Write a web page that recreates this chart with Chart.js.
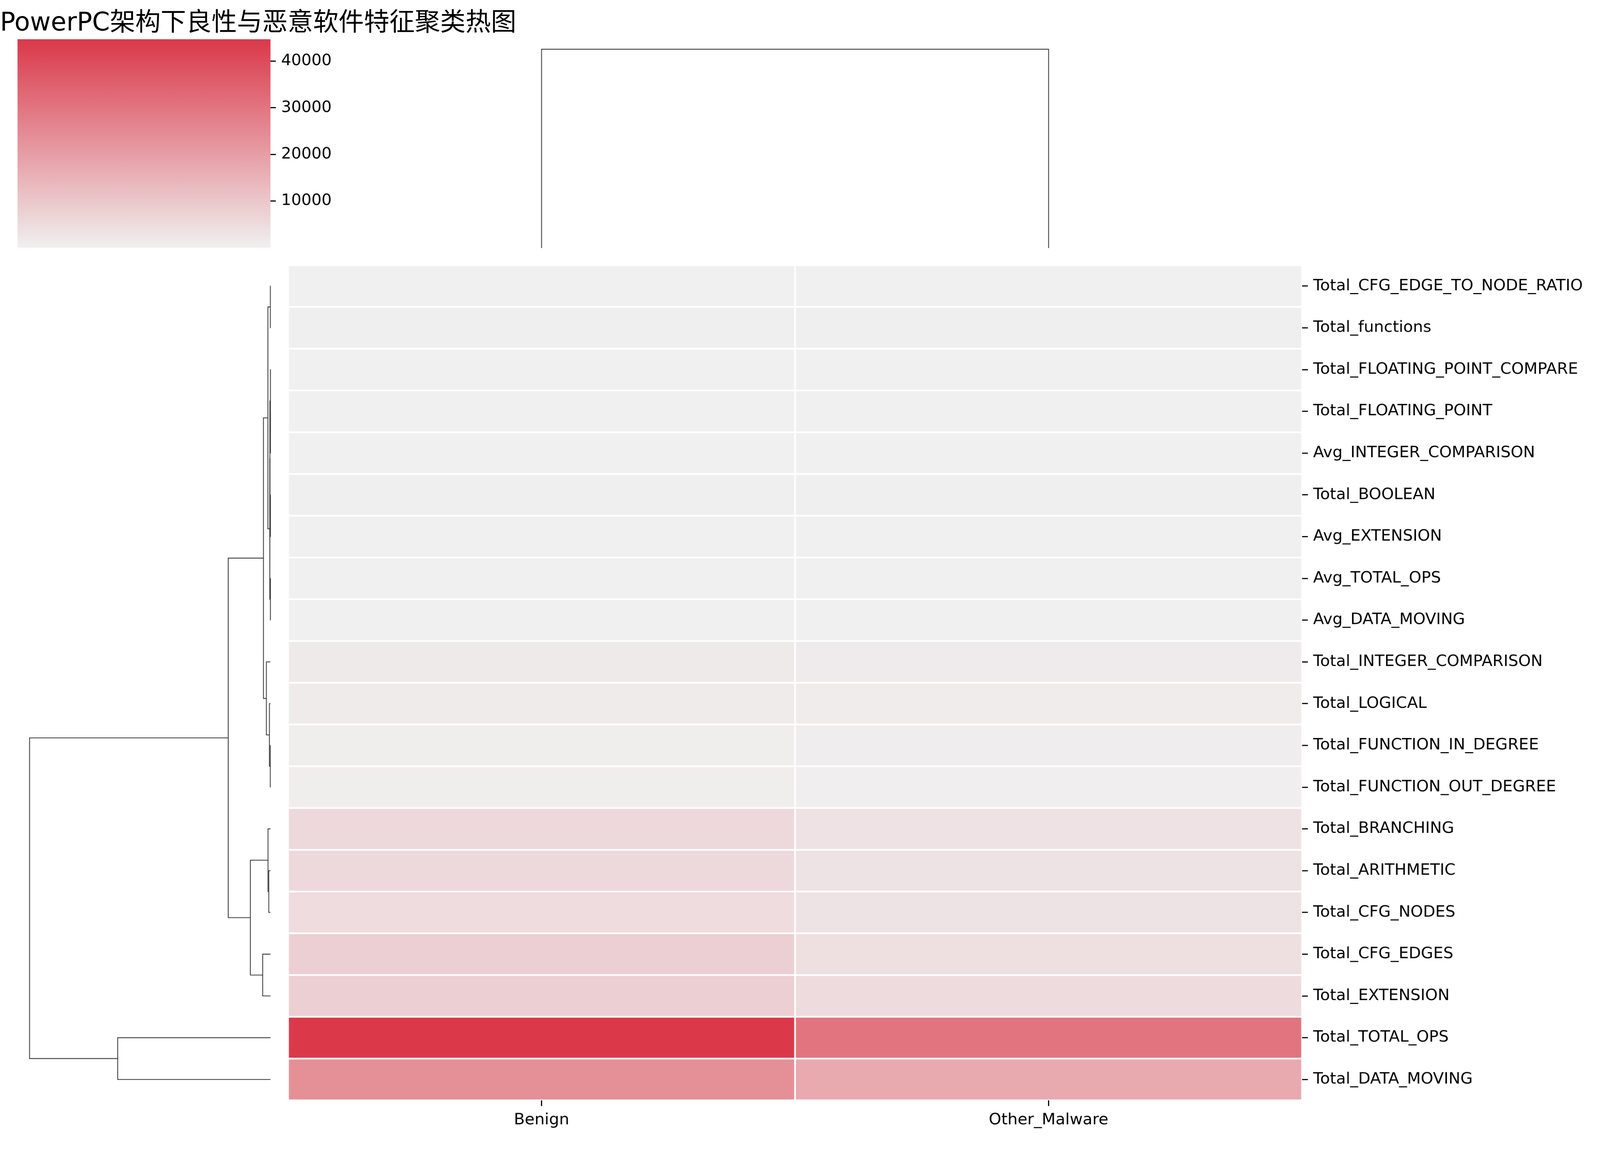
<!DOCTYPE html>
<html>
<head>
<meta charset="utf-8">
<script src="https://cdn.jsdelivr.net/npm/chart.js@4.4.1/dist/chart.umd.min.js"></script>
<style>
  html, body { margin: 0; padding: 0; background: #fff; overflow: hidden; }
  #page { width: 4200px; height: 3000px; position: relative; overflow: hidden; transform-origin: 0 0; }
  .box { position: absolute; }
  #title {
    position: absolute; left: 0px; top: 24px; white-space: nowrap; color: #000;
    font-family: "DejaVu Sans", "Noto Sans CJK SC", sans-serif;
    font-size: 66.7px; line-height: 66.7px;
  }
</style>
</head>
<body>
<div id="page">
<div id="title">PowerPC架构下良性与恶意软件特征聚类热图</div>
<div class="box" style="left:46px;top:103px;width:964px;height:547px"><canvas id="cbar"></canvas></div>
<div class="box" style="left:756px;top:103px;width:2662px;height:558px"><canvas id="colDendro"></canvas></div>
<div class="box" style="left:46px;top:696px;width:674px;height:2192px"><canvas id="rowDendro"></canvas></div>
<div class="box" style="left:756px;top:696px;width:3444px;height:2304px"><canvas id="heat"></canvas></div>
</div>
<script>
// rows in dendrogram order, top to bottom
const rowLabels = [
  'Total_CFG_EDGE_TO_NODE_RATIO', 'Total_functions', 'Total_FLOATING_POINT_COMPARE',
  'Total_FLOATING_POINT', 'Avg_INTEGER_COMPARISON', 'Total_BOOLEAN', 'Avg_EXTENSION',
  'Avg_TOTAL_OPS', 'Avg_DATA_MOVING', 'Total_INTEGER_COMPARISON', 'Total_LOGICAL',
  'Total_FUNCTION_IN_DEGREE', 'Total_FUNCTION_OUT_DEGREE', 'Total_BRANCHING',
  'Total_ARITHMETIC', 'Total_CFG_NODES', 'Total_CFG_EDGES', 'Total_EXTENSION',
  'Total_TOTAL_OPS', 'Total_DATA_MOVING'
];
const colLabels = ['Benign', 'Other_Malware'];

const benign       = [1.3, 160, 4, 9, 6, 210, 3, 45, 20, 1500, 1250, 760, 740, 5600, 5500, 4900, 8100, 8000, 44700, 23800];
const otherMalware = [1.2, 130, 3, 7, 5, 170, 3, 40, 18, 1200, 1000, 620, 600, 3300, 3250, 3200, 4200, 5100, 30300, 17300];

const cbarTicks = [10000, 20000, 30000, 40000];

// row linkage: [left, right] ids (leaves 0..19, merged clusters 20..) and merge heights
const rowLinkPairs = [
  [0, 1], [3, 4], [2, 21], [5, 6], [7, 8], [22, 23], [25, 24], [20, 26],
  [11, 12], [10, 28], [9, 29], [27, 30], [14, 15], [13, 32], [16, 17],
  [33, 34], [31, 35], [18, 19], [36, 37]
];
const rowLinkHeights = [
  20, 5, 15, 10, 12, 90, 105, 395,
  29, 163, 628, 1075, 262, 378, 1192,
  3075, 6453, 23342, 36800
];
const colLinkPairs = [[0, 1]];
const colLinkHeights = [18500];

const lowRGB = [240, 240, 240];
const highRGB = [219, 57, 73];
const fontFamily = 'DejaVu Sans';
const tickFont = { family: fontFamily, size: 41.7 };

// the layout is drawn for a 4200px wide page; fit it to the real viewport
const fit = window.innerWidth / 4200;
document.getElementById('page').style.transform = 'scale(' + fit + ')';

Chart.defaults.font.family = fontFamily;
Chart.defaults.color = '#000';

const values = [benign, otherMalware];
const vmin = Math.min(...benign, ...otherMalware);
const vmax = Math.max(...benign, ...otherMalware);

function mix(t) {
  const c = lowRGB.map((l, i) => Math.round(l + (highRGB[i] - l) * t));
  return `rgb(${c[0]},${c[1]},${c[2]})`;
}
function valueColor(v) {
  return mix((v - vmin) / (vmax - vmin));
}

// scipy-like dendrogram coordinates: leaves at 5, 15, 25 ...
function dendroSegments(nLeaves, pairs, heights) {
  const pos = [], hgt = [];
  for (let i = 0; i < nLeaves; i++) { pos[i] = 5 + 10 * i; hgt[i] = 0; }
  return pairs.map(([a, b], k) => {
    const id = nLeaves + k, h = heights[k];
    pos[id] = (pos[a] + pos[b]) / 2;
    hgt[id] = h;
    return [[hgt[a], pos[a]], [h, pos[a]], [h, pos[b]], [hgt[b], pos[b]]];
  });
}

function lineSets(segs, horizontal) {
  return segs.map(s => ({
    data: s.map(([h, p]) => horizontal ? { x: h, y: p } : { x: p, y: h }),
    showLine: true, pointRadius: 0, borderColor: '#333333', borderWidth: 2.1,
    tension: 0, fill: false, clip: false
  }));
}

const baseOpts = {
  responsive: true, maintainAspectRatio: false, animation: false,
  devicePixelRatio: 1, events: [],
  plugins: { legend: { display: false }, tooltip: { enabled: false }, title: { display: false } }
};

// row dendrogram
const rowMax = Math.max(...rowLinkHeights) * 1.05;
new Chart(document.getElementById('rowDendro'), {
  type: 'scatter',
  data: { datasets: lineSets(dendroSegments(rowLabels.length, rowLinkPairs, rowLinkHeights), true) },
  options: {
    ...baseOpts,
    layout: { autoPadding: false, padding: { right: 10 } },
    scales: {
      x: { type: 'linear', display: false, min: 0, max: rowMax, reverse: true },
      y: { type: 'linear', display: false, min: 0, max: rowLabels.length * 10, reverse: true }
    }
  }
});

// column dendrogram
const colMax = Math.max(...colLinkHeights) * 1.05;
new Chart(document.getElementById('colDendro'), {
  type: 'scatter',
  data: { datasets: lineSets(dendroSegments(colLabels.length, colLinkPairs, colLinkHeights), false) },
  options: {
    ...baseOpts,
    layout: { autoPadding: false, padding: { bottom: 10 } },
    scales: {
      x: { type: 'linear', display: false, min: 0, max: colLabels.length * 10 },
      y: { type: 'linear', display: false, min: 0, max: colMax }
    }
  }
});

// heatmap: stacked unit bars, one dataset per column, coloured by value
new Chart(document.getElementById('heat'), {
  type: 'bar',
  data: {
    labels: rowLabels,
    datasets: colLabels.map((name, c) => ({
      label: name,
      data: rowLabels.map(() => 1),
      backgroundColor: values[c].map(valueColor),
      borderColor: '#ffffff',
      borderWidth: 2.6,
      borderSkipped: false,
      barPercentage: 1,
      categoryPercentage: 1
    }))
  },
  options: {
    ...baseOpts,
    indexAxis: 'y',
    layout: { autoPadding: false, padding: 0 },
    scales: {
      x: {
        type: 'linear', stacked: true, min: 0, max: colLabels.length, position: 'bottom',
        afterBuildTicks: s => { s.ticks = colLabels.map((_, i) => ({ value: i + 0.5 })); },
        afterFit: s => { s.height = 112; s.paddingLeft = 0; s.paddingRight = 0; },
        ticks: { callback: (v, i) => colLabels[i], font: tickFont, padding: 12, maxRotation: 0, autoSkip: false },
        grid: { drawOnChartArea: false, drawTicks: true, tickLength: 15, tickWidth: 3, tickColor: '#000' },
        border: { display: false }
      },
      y: {
        type: 'category', stacked: true, position: 'right', offset: true,
        afterFit: s => { s.width = 782; s.paddingTop = 0; s.paddingBottom = 0; },
        ticks: { font: tickFont, padding: 14, autoSkip: false },
        grid: { offset: false, drawOnChartArea: false, drawTicks: true, tickLength: 15, tickWidth: 3, tickColor: '#000' },
        border: { display: false }
      }
    }
  }
});

// colour bar
new Chart(document.getElementById('cbar'), {
  type: 'bar',
  data: {
    labels: [''],
    datasets: [{
      data: [[vmin, vmax]],
      backgroundColor: ctx => {
        const chart = ctx.chart;
        if (!chart.chartArea) return mix(0.5);
        const ys = chart.scales.y;
        const g = chart.ctx.createLinearGradient(0, ys.getPixelForValue(vmin), 0, ys.getPixelForValue(vmax));
        g.addColorStop(0, mix(0));
        g.addColorStop(1, mix(1));
        return g;
      },
      borderWidth: 0,
      barPercentage: 1,
      categoryPercentage: 1
    }]
  },
  options: {
    ...baseOpts,
    layout: { autoPadding: false, padding: 0 },
    scales: {
      x: { display: false },
      y: {
        type: 'linear', position: 'right', min: vmin, max: vmax,
        afterBuildTicks: s => { s.ticks = cbarTicks.map(v => ({ value: v })); },
        afterFit: s => { s.width = 300; s.paddingTop = 0; s.paddingBottom = 0; },
        ticks: { callback: v => String(v), font: tickFont, padding: 14 },
        grid: { drawOnChartArea: false, drawTicks: true, tickLength: 14, tickWidth: 3, tickColor: '#000' },
        border: { display: false }
      }
    }
  }
});
</script>
</body>
</html>
